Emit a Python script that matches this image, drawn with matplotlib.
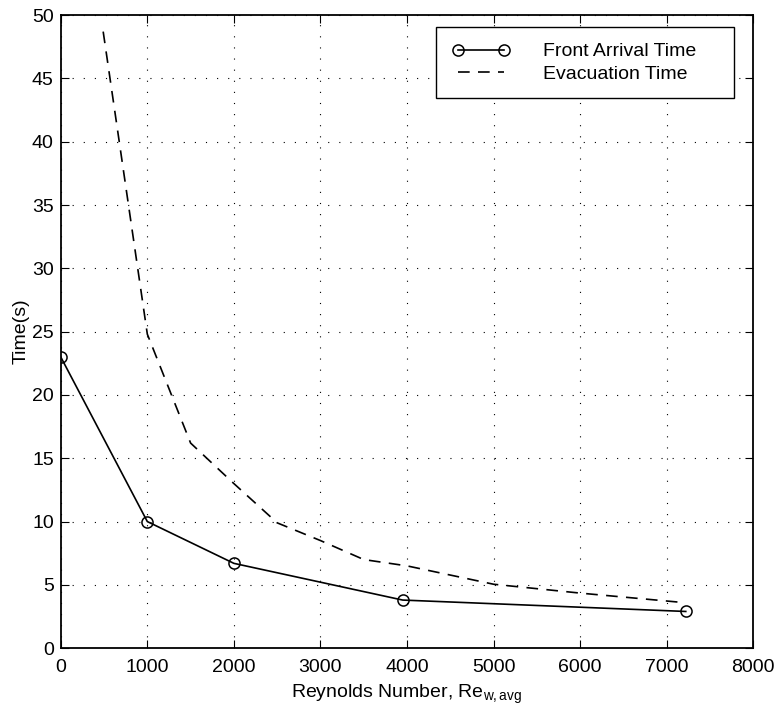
import matplotlib
matplotlib.use("Agg")
import matplotlib.pyplot as plt

plt.rcParams['font.family'] = ['Liberation Sans', 'DejaVu Sans']
plt.rcParams['mathtext.fontset'] = 'custom'
plt.rcParams['mathtext.rm'] = 'Liberation Sans'
plt.rcParams['mathtext.it'] = 'Liberation Sans'

front_re = [0, 1000, 2000, 3950, 7220]
front_t = [23.0, 10.0, 6.7, 3.8, 2.9]

evac_re = [490, 1000, 1500, 2000, 2500, 3000, 3500, 4000, 5000, 6000, 7200]
evac_t = [48.7, 24.8, 16.2, 13.0, 9.9, 8.5, 7.0, 6.5, 5.05, 4.35, 3.6]

xticks = [0, 1000, 2000, 3000, 4000, 5000, 6000, 7000, 8000]
yticks = [0, 5, 10, 15, 20, 25, 30, 35, 40, 45, 50]

fig = plt.figure(figsize=(7.79, 7.21), dpi=100)
ax = fig.add_axes([0.078, 0.101, 0.889, 0.878])

ax.plot(front_re, front_t, '-', color='black', lw=1.2, marker='o', ms=8,
        mfc='none', mec='black', mew=1.1, label='Front Arrival Time')
ax.plot(evac_re, evac_t, '--', color='black', lw=1.2, dashes=(7, 5),
        label='Evacuation Time')

ax.set_xlim(0, 8000)
ax.set_ylim(0, 50)
ax.set_xticks(xticks)
ax.set_yticks(yticks)
ax.tick_params(axis='x', direction='in', top=True, labelsize=14, length=6, pad=8)
ax.tick_params(axis='y', direction='in', right=True, labelsize=14, length=6, pad=5)
ax.grid(True, linestyle=(0, (1, 9)), color='black', lw=0.8)
for s in ax.spines.values():
    s.set_linewidth(1.3)

ax.set_xlabel(r'Reynolds Number, Re$_{\mathrm{w,avg}}$', fontsize=14, labelpad=5)
ax.set_ylabel('Time(s)', fontsize=14, labelpad=2)

leg = ax.legend(loc='upper left', mode='expand', fontsize=14, numpoints=2,
                handlelength=3.0, fancybox=False, framealpha=1, edgecolor='black',
                borderpad=0.8, handletextpad=1.7, labelspacing=0.25,
                borderaxespad=0, bbox_to_anchor=(0.542, 0.5, 0.4306, 0.481))
leg.get_frame().set_linewidth(1.0)

fig.savefig('out.png', dpi=100)
